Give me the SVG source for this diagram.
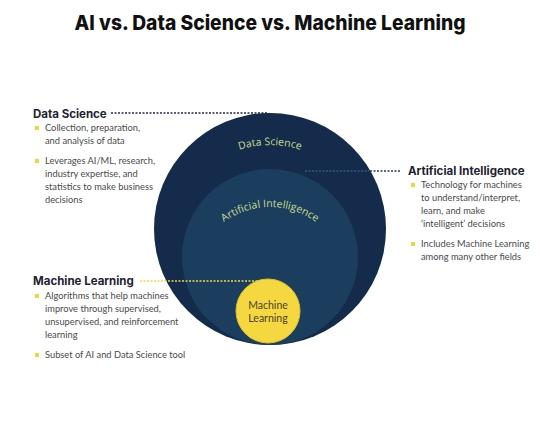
<svg xmlns="http://www.w3.org/2000/svg" width="540" height="422" viewBox="0 0 540 422">
<style>
.title{font-family:Inter,"Open Sans","Liberation Sans",sans-serif;font-weight:800;font-size:20.5px;fill:#111;}
.head{font-family:Inter,"Open Sans","Liberation Sans",sans-serif;font-weight:700;font-size:11.5px;fill:#1e2233;}
.body{font-family:Lato,"Open Sans","Liberation Sans",sans-serif;font-size:9.3px;fill:#4a4a4a;}
.arc{font-family:"Open Sans","Liberation Sans",sans-serif;font-size:10.5px;fill:#c6dc8c;}
.bul{fill:#f2d53c;}
.dot{fill:none;stroke-width:1.5;stroke-dasharray:2 1.5;}
</style>
<defs>
<path id="dsArc" d="M 170,245 A 100,100 0 0 1 370,245"/>
<path id="aiArc" d="M 192,285 A 78,78 0 0 1 348,285"/>
</defs>
<rect width="540" height="422" fill="#fff"/>
<text class="title" x="270" y="30" text-anchor="middle" textLength="391" lengthAdjust="spacingAndGlyphs">AI vs. Data Science vs. Machine Learning</text>

<g id="circle-ds">
<circle cx="270" cy="229" r="116" fill="#142b4b"/>
<text class="arc"><textPath href="#dsArc" startOffset="50%" text-anchor="middle">Data Science</textPath></text>
</g>
<g id="circle-ai">
<circle cx="270" cy="257" r="88" fill="#1b3d5e"/>
<text class="arc"><textPath href="#aiArc" startOffset="50%" text-anchor="middle">Artificial Intelligence</textPath></text>
</g>
<g id="circle-ml">
<circle cx="268" cy="311" r="32" fill="#f5d83f" stroke="#e0bf30" stroke-width="1"/>
<text font-family="Lato,'Open Sans',sans-serif" font-size="10.5" fill="#4a4030" text-anchor="middle"><tspan x="268" y="309">Machine</tspan><tspan x="268" y="322">Learning</tspan></text>
</g>

<g id="connectors">
<line class="dot" x1="111" y1="113" x2="268" y2="113" stroke="#1e2a44"/>
<line class="dot" x1="305" y1="171" x2="369" y2="171" stroke="#4a6a8a" opacity="0.7"/>
<line class="dot" x1="370" y1="171" x2="401" y2="171" stroke="#1e3a5c"/>
<line class="dot" x1="140" y1="281" x2="266" y2="281" stroke="#f0d84a"/>
</g>

<g id="label-ds">
<text class="head" x="33" y="118">Data Science</text>
<rect class="bul" x="35" y="126" width="4" height="4"/>
<text class="body"><tspan x="45" y="131">Collection, preparation,</tspan><tspan x="45" y="144">and analysis of data</tspan></text>
<rect class="bul" x="35" y="159" width="4" height="4"/>
<text class="body"><tspan x="45" y="164">Leverages AI/ML, research,</tspan><tspan x="45" y="177">industry expertise, and</tspan><tspan x="45" y="190">statistics to make business</tspan><tspan x="45" y="203">decisions</tspan></text>
</g>

<g id="label-ai">
<text class="head" x="408" y="175">Artificial Intelligence</text>
<rect class="bul" x="411" y="183" width="4" height="4"/>
<text class="body"><tspan x="421" y="188">Technology for machines</tspan><tspan x="421" y="201">to understand/interpret,</tspan><tspan x="421" y="214">learn, and make</tspan><tspan x="421" y="227">‘intelligent’ decisions</tspan></text>
<rect class="bul" x="411" y="242" width="4" height="4"/>
<text class="body"><tspan x="421" y="247">Includes Machine Learning</tspan><tspan x="421" y="260">among many other fields</tspan></text>
</g>

<g id="label-ml">
<text class="head" x="33" y="285">Machine Learning</text>
<rect class="bul" x="35" y="294" width="4" height="4"/>
<text class="body"><tspan x="45" y="299">Algorithms that help machines</tspan><tspan x="45" y="312">improve  through supervised,</tspan><tspan x="45" y="325">unsupervised, and reinforcement</tspan><tspan x="45" y="338">learning</tspan></text>
<rect class="bul" x="35" y="353" width="4" height="4"/>
<text class="body"><tspan x="45" y="358">Subset of AI and Data Science tool</tspan></text>
</g>
</svg>
